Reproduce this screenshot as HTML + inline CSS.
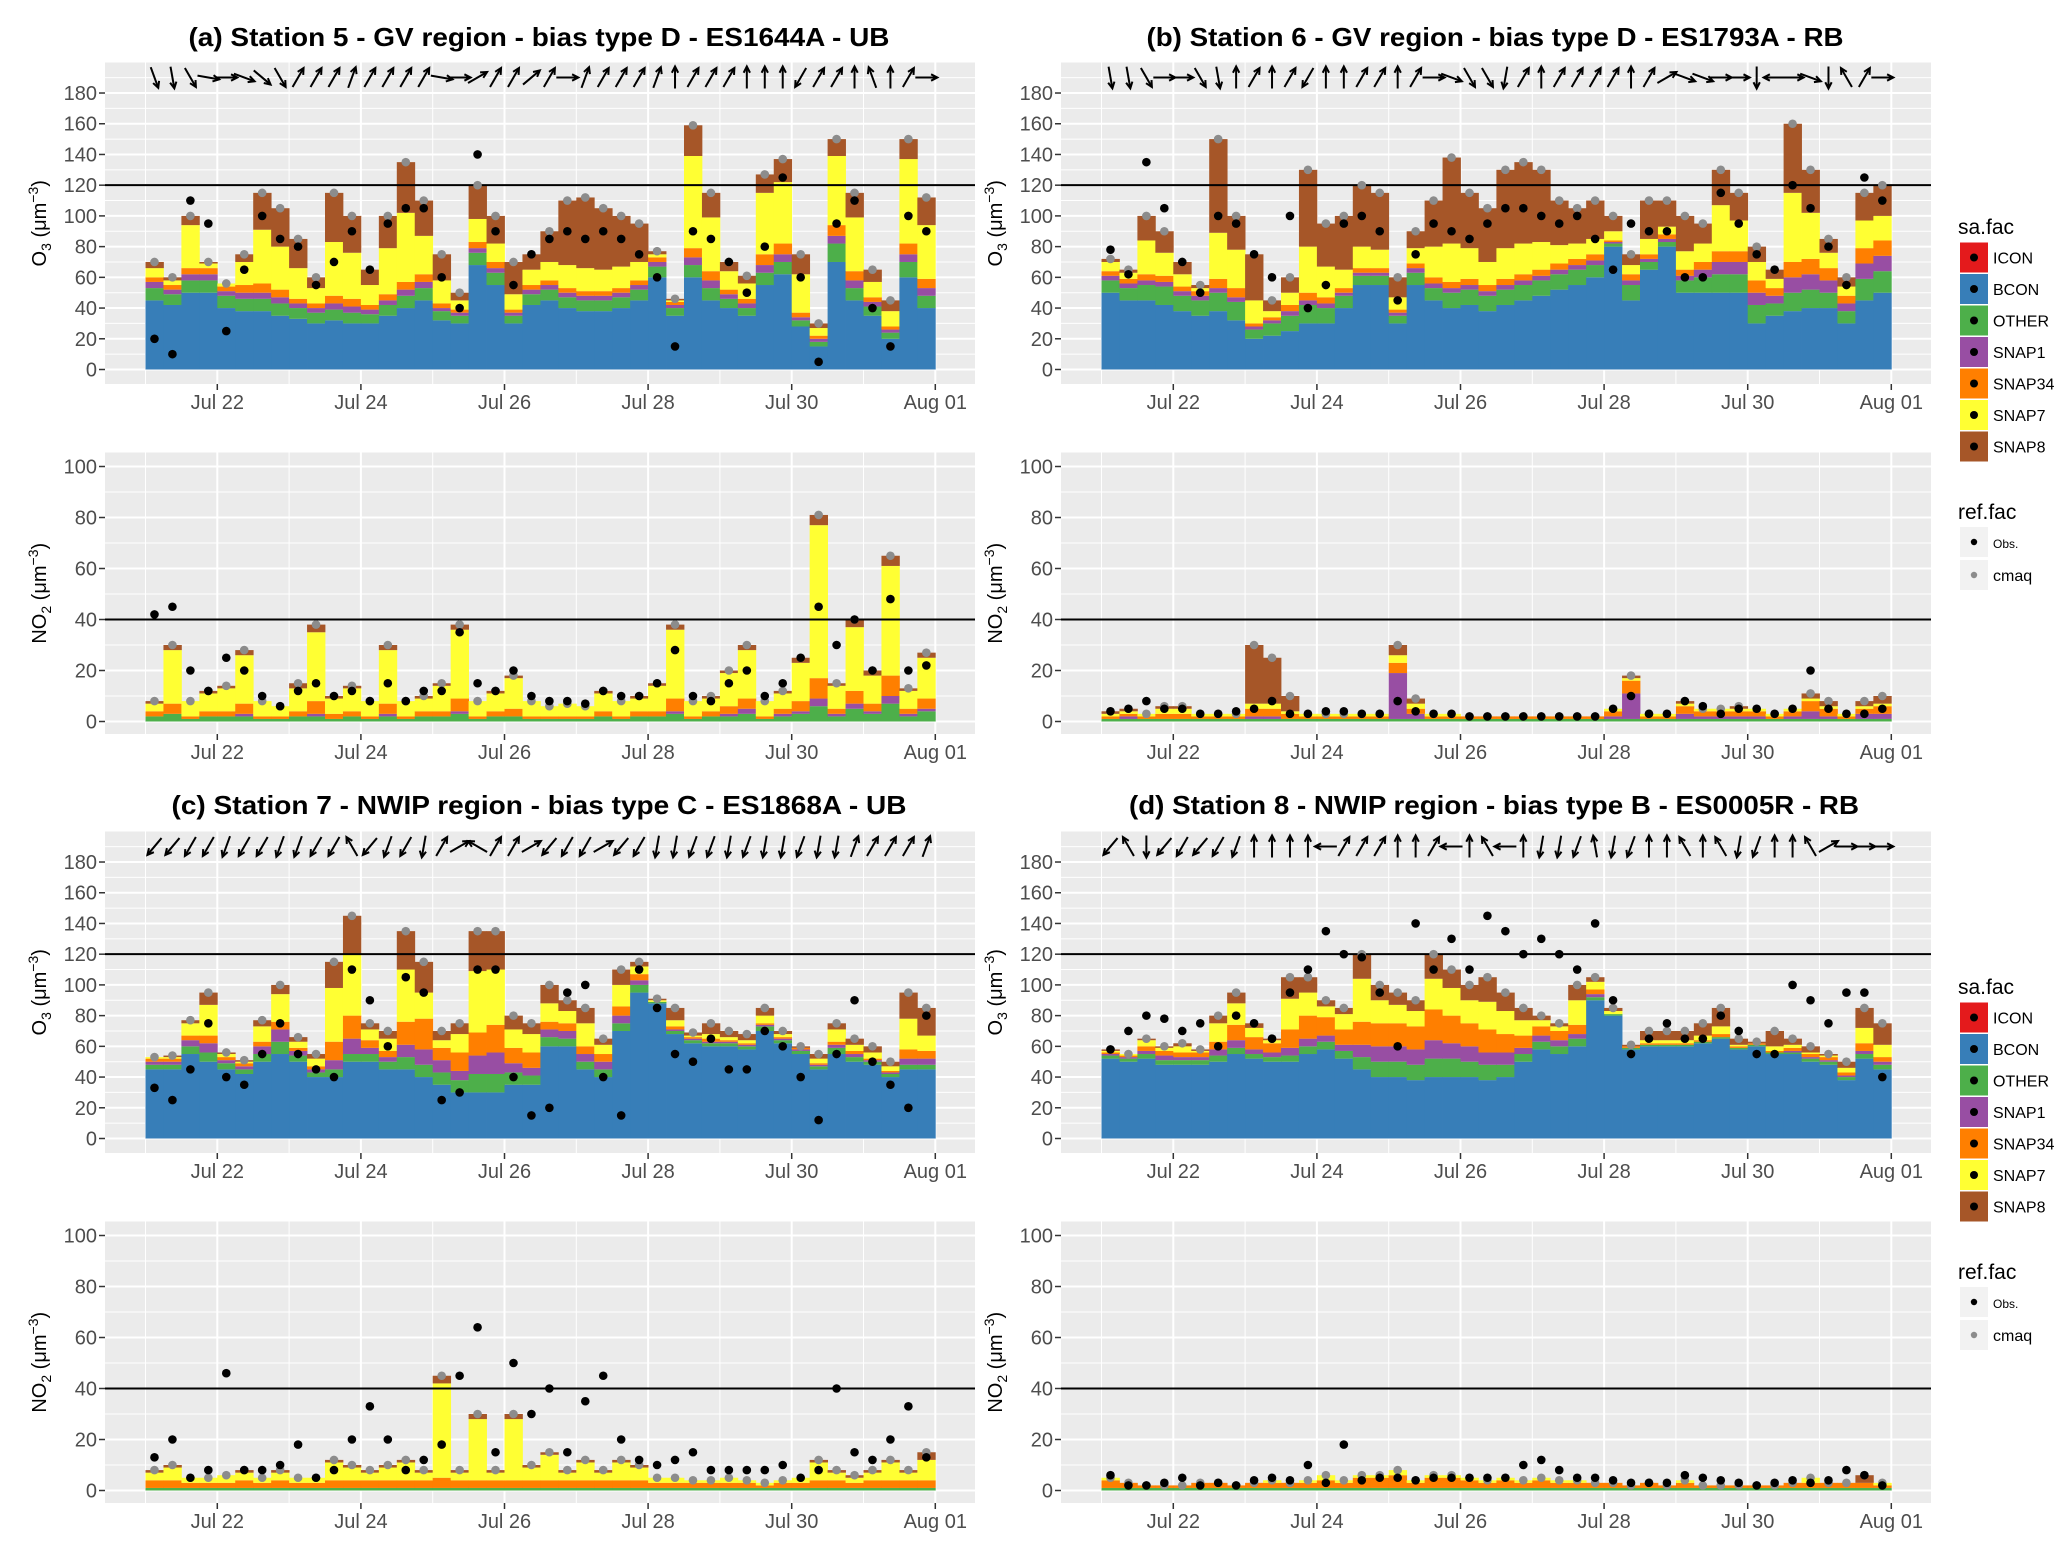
<!DOCTYPE html>
<html><head><meta charset="utf-8"><style>
html,body{margin:0;padding:0;background:#fff;overflow:hidden;}
svg{display:block;font-family:"Liberation Sans",sans-serif;}
</style></head><body>
<svg id="chart" width="2067" height="1549" viewBox="0 0 2067 1549" xmlns="http://www.w3.org/2000/svg"></svg>
<script>
const categories = ["Jul 22","Jul 24","Jul 26","Jul 28","Jul 30","Aug 01"];
const o3Ticks = [0,20,40,60,80,100,120,140,160,180];
const no2Ticks = [0,20,40,60,80,100];
const layerNames = ["BCON","OTHER","SNAP1","SNAP34","SNAP7","SNAP8"];
const layerColors = ["#377EB8","#4DAF4A","#984EA3","#FF7F00","#FFFF33","#A65628"];
const z44 = [0,0,0,0,0,0,0,0,0,0,0,0,0,0,0,0,0,0,0,0,0,0,0,0,0,0,0,0,0,0,0,0,0,0,0,0,0,0,0,0,0,0,0,0];
const ones44 = [1,1,1,1,1,1,1,1,1,1,1,1,1,1,1,1,1,1,1,1,1,1,1,1,1,1,1,1,1,1,1,1,1,1,1,1,1,1,1,1,1,1,1,1];

// Panel A (Station 5) O3
const bconA = [45,42,50,50,40,38,38,35,33,30,32,30,30,35,40,45,32,30,68,55,30,42,45,40,38,38,40,45,60,35,60,45,40,35,55,62,28,15,70,45,35,20,60,40];
const otherA = [8,7,8,8,8,8,8,8,7,7,7,7,6,7,8,8,6,5,8,8,5,7,7,7,7,7,7,7,7,5,8,8,6,5,8,8,4,3,12,8,6,4,10,8];
const snap1A = [4,3,4,4,3,4,4,4,3,3,4,4,3,3,4,4,2,2,3,3,2,3,3,3,3,3,3,3,3,2,5,5,3,3,5,5,2,2,5,5,3,2,5,5];
const snap34A = [3,3,4,4,3,5,6,5,3,3,5,5,3,4,5,5,3,2,4,4,2,3,3,3,3,3,3,3,3,2,6,6,3,3,7,7,3,2,7,6,3,2,7,6];
const snap7A = [6,3,28,3,2,15,35,28,20,10,35,30,13,30,45,25,15,6,15,12,10,10,12,15,15,14,14,12,2,1,60,35,12,10,40,40,25,5,45,35,10,10,55,35];
const snap8A = [4,2,6,1,0,5,24,25,19,7,32,24,10,21,33,23,17,5,22,18,21,10,20,42,46,40,33,25,2,1,20,16,6,5,12,15,13,3,11,16,8,7,13,18];
const obsA = [20,10,110,95,25,65,100,85,80,55,70,90,65,95,105,105,60,40,140,90,55,75,85,90,85,90,85,75,60,15,90,85,70,50,80,125,60,5,95,110,40,15,100,90];
const windA = [70,80,60,10,0,20,40,60,-60,-60,-60,-70,-60,-60,-60,-60,10,0,-30,-60,-60,-40,-60,0,-70,-60,-60,-60,-70,-90,-60,-60,-60,-90,-90,-90,120,-60,-60,-90,-110,-90,-60,0];
// Panel A NO2
const otherNA = [2,3,1,2,2,2,1,1,2,2,1,2,1,2,1,2,2,3,1,2,2,1,1,1,1,2,1,2,2,3,1,2,2,3,1,2,3,6,2,5,3,7,2,4];
const snap1NA = [0,0,0,0,0,1,0,0,0,1,0,0,0,1,0,0,0,1,0,0,0,0,0,0,0,0,0,0,0,1,0,0,1,2,0,1,1,3,1,2,1,3,1,1];
const snap34NA = [2,4,1,2,2,4,1,1,2,5,2,2,1,4,1,2,2,5,1,2,3,1,1,1,1,2,1,2,2,5,1,2,3,4,1,2,4,8,2,5,3,8,2,4];
const snap7NA = [3,21,6,7,9,19,6,4,9,27,6,9,6,21,6,5,10,27,6,7,12,6,4,5,4,7,6,5,10,27,6,5,13,19,6,6,15,60,9,25,11,43,7,16];
const snap8NA = [1,2,0,1,1,2,0,0,2,3,1,1,0,2,0,1,1,2,0,1,1,0,0,0,0,1,0,1,1,2,0,1,1,2,0,1,2,4,1,3,2,4,1,2];
const obsNA = [42,45,20,12,25,20,10,6,12,15,10,12,8,15,8,12,12,35,15,12,20,10,8,8,7,12,10,10,15,28,10,8,15,20,10,15,25,45,30,40,20,48,20,22];

// Panel B (Station 6) O3
const bconB = [50,45,45,42,38,35,38,32,20,22,25,30,30,40,55,55,30,55,45,40,42,38,42,45,48,52,55,60,80,45,65,80,50,50,50,50,30,35,38,40,40,30,45,50];
const otherB = [8,8,10,12,10,10,12,12,6,8,10,12,10,8,6,6,5,8,8,10,10,10,10,10,10,10,10,8,2,10,5,3,8,10,12,12,12,8,12,12,10,8,14,14];
const snap1B = [3,3,3,3,3,3,3,3,2,2,3,3,3,2,2,2,2,3,3,3,3,3,3,3,3,3,3,3,1,3,2,2,3,5,8,8,8,5,10,10,8,5,10,10];
const snap34B = [3,3,4,4,3,3,6,6,2,2,4,5,4,3,3,3,2,3,4,4,4,4,4,4,4,4,4,4,1,4,3,3,4,5,7,7,8,5,10,10,8,5,10,10];
const snap7B = [6,4,22,15,8,2,30,25,15,4,8,30,20,12,14,12,8,10,20,25,20,15,20,20,18,12,10,10,6,6,10,5,12,12,30,20,12,6,45,30,10,6,18,16];
const snap8B = [2,2,16,14,8,2,61,22,30,7,10,50,28,35,40,37,13,11,30,56,36,35,51,53,47,29,23,25,10,7,25,17,23,13,23,18,10,6,45,28,9,6,18,20];
const obsB = [78,62,135,105,70,50,100,95,75,60,100,40,55,95,100,90,45,75,95,90,85,95,105,105,100,95,100,85,65,95,90,90,60,60,115,95,75,65,120,105,80,55,125,110];
const windB = [80,80,60,0,0,60,80,-90,-60,-90,-60,120,-90,-90,-60,-60,-90,-60,0,20,60,60,100,-60,-90,-60,-60,-60,-60,-90,-60,-30,20,20,0,0,90,180,0,20,90,-120,-60,0];
// Panel B NO2
const otherNB = ones44;
const snap1NB = [0,1,0,0,0,0,0,0,1,1,0,0,0,0,0,0,18,2,0,0,0,0,0,0,0,0,0,0,1,10,0,0,2,1,1,1,1,0,1,3,1,0,2,2];
const snap34NB = [1,1,1,2,2,1,1,1,3,3,2,1,1,1,1,1,4,2,1,1,1,1,1,1,1,1,1,1,2,5,1,1,3,2,2,2,2,1,2,4,3,1,2,3];
const snap7NB = [1,1,1,2,2,1,1,1,2,2,1,1,1,1,1,1,3,2,1,1,0,0,0,0,0,0,0,0,1,1,1,1,1,1,1,1,1,1,1,1,1,1,1,1];
const snap8NB = [1,1,0,1,1,0,0,0,23,18,6,0,0,0,0,0,4,2,0,0,0,0,0,0,0,0,0,0,0,1,0,0,1,0,0,1,0,0,0,2,2,0,2,3];
const obsNB = [4,5,8,5,5,3,3,4,5,8,3,3,4,4,3,3,8,4,3,3,2,2,2,2,2,2,2,2,5,10,3,3,8,6,3,5,5,3,5,20,5,3,3,5];

// Panel C (Station 7) O3
const bconC = [45,45,55,50,45,42,50,55,50,40,40,50,50,45,45,40,35,30,30,30,35,35,60,60,45,40,70,95,88,68,62,60,60,58,70,62,55,45,55,50,48,40,45,45];
const otherC = [3,3,5,6,4,3,5,8,4,3,5,5,5,5,8,8,8,8,12,12,8,6,6,5,5,5,5,5,1,2,2,2,2,2,3,2,2,2,4,3,2,2,3,3];
const snap1C = [2,2,4,6,2,2,5,8,3,2,6,10,4,3,8,10,8,6,12,14,6,5,5,5,5,5,5,3,0,1,1,1,1,1,1,1,1,1,2,2,1,1,4,4];
const snap34C = [2,2,3,5,2,2,3,5,2,2,12,15,5,4,15,20,8,12,15,18,10,10,5,5,5,5,6,4,0,2,1,2,1,1,1,1,1,1,2,2,1,1,6,5];
const snap7C = [1,1,8,20,2,1,10,18,4,5,35,40,7,8,34,17,5,12,40,36,12,12,12,8,15,6,14,5,1,4,1,3,2,2,5,2,0,3,8,4,4,3,20,10];
const snap8C = [0,1,2,8,1,1,4,6,3,3,17,25,4,5,25,20,6,7,26,25,9,7,12,7,10,4,10,3,1,8,2,7,4,4,5,2,1,3,4,4,4,3,17,18];
const obsC = [33,25,45,75,40,35,55,75,55,45,40,110,90,60,105,95,25,30,110,110,40,15,20,95,100,40,15,110,85,55,50,65,45,45,70,60,40,12,55,90,50,35,20,80];
const windC = [130,130,120,120,110,120,120,110,110,120,120,-120,130,110,120,100,-60,-30,-150,-60,-60,-30,130,120,120,-30,130,120,100,100,110,110,100,110,100,100,110,100,100,-70,-60,-60,-60,-70];
// Panel C NO2
const otherNC = ones44;
const snap1NC = z44;
const snap34NC = [3,3,2,2,2,3,2,3,2,2,3,3,3,3,3,3,4,3,3,3,3,3,3,3,3,3,3,3,2,2,2,2,2,2,1,2,2,3,3,2,3,3,3,3];
const snap7NC = [3,5,2,2,3,3,2,3,2,2,7,5,3,5,7,3,37,3,24,3,24,5,10,3,7,3,7,5,2,2,1,1,2,1,1,1,2,7,3,2,3,7,3,8];
const snap8NC = [1,1,0,0,0,1,0,1,0,0,1,1,1,1,1,1,3,1,2,1,2,1,1,1,1,1,1,1,0,0,0,0,0,0,0,0,0,1,1,1,1,1,1,3];
const obsNC = [13,20,5,8,46,8,8,10,18,5,8,20,33,20,8,12,18,45,64,15,50,30,40,15,35,45,20,12,10,12,15,8,8,8,8,10,5,8,40,15,12,20,33,13];

// Panel D (Station 8) O3
const bconD = [52,50,52,48,48,48,50,55,52,50,50,55,58,52,45,40,40,38,40,40,40,38,40,50,58,55,60,90,80,58,60,60,60,62,65,58,60,55,55,50,48,38,52,45];
const otherD = [2,2,3,3,3,3,4,4,3,3,4,5,5,5,8,10,10,10,12,12,10,10,8,5,5,5,5,2,1,1,1,1,1,1,1,1,1,1,1,2,2,2,3,3];
const snap1D = [1,1,2,3,2,2,4,5,3,3,5,5,4,4,8,10,10,10,12,10,10,8,8,4,4,4,3,2,0,0,0,0,0,0,0,0,0,0,1,1,1,1,2,2];
const snap34D = [1,1,3,3,3,3,5,10,8,6,12,15,12,10,15,15,15,15,20,18,15,15,12,8,6,6,6,3,0,1,1,1,1,1,2,1,1,1,2,2,2,2,5,3];
const snap7D = [1,1,4,2,4,1,12,14,6,2,20,15,7,10,28,15,12,10,20,18,15,18,15,10,4,3,16,5,2,0,2,2,2,3,5,1,0,3,2,1,1,3,10,8];
const snap8D = [1,0,1,1,2,1,5,7,3,1,14,10,4,4,16,10,8,7,16,12,10,16,12,8,3,2,10,3,2,1,6,6,6,8,12,4,1,10,4,4,1,4,13,14];
const obsD = [58,70,80,78,70,75,60,80,75,65,95,110,135,120,118,95,60,140,110,130,110,145,135,120,130,120,110,140,90,55,65,75,65,65,80,70,55,55,100,90,75,95,95,40];
const windD = [130,-120,90,130,120,130,120,110,-90,-90,-90,-90,180,-60,-60,-60,-90,-90,-60,180,-90,-120,180,-90,100,100,110,-100,100,110,-90,-90,-120,-90,-120,100,110,-90,-90,-120,-30,0,0,0];
// Panel D NO2
const otherND = ones44;
const snap1ND = z44;
const snap34ND = [3,2,1,1,1,2,2,1,2,2,2,2,3,2,4,4,5,2,4,4,3,2,3,2,3,2,2,2,2,1,2,1,2,1,1,1,1,1,2,2,2,2,2,1];
const snap7ND = [1,0,0,0,0,0,0,0,0,1,0,1,2,1,1,1,2,1,1,1,1,1,1,1,1,1,1,0,0,0,0,0,1,0,0,0,0,0,0,2,0,0,0,1];
const snap8ND = [0,0,0,0,0,0,0,0,0,0,0,0,0,0,0,0,0,0,0,0,0,0,0,0,0,0,0,0,0,0,0,0,0,0,0,0,0,0,0,0,0,0,3,0];
const obsND = [6,2,2,3,5,2,3,2,4,5,4,10,3,18,4,5,5,4,5,5,5,5,5,10,12,8,5,5,4,3,3,3,6,5,4,3,2,3,4,3,4,8,6,2];

const titles = ["(a)  Station 5 - GV region -  bias type D - ES1644A - UB","(b)  Station 6 - GV region - bias type D - ES1793A - RB","(c)  Station  7 - NWIP region - bias type C - ES1868A - UB","(d)  Station 8 - NWIP region - bias type B - ES0005R - RB"];

const NS="http://www.w3.org/2000/svg";
const svg=document.getElementById('chart');
function el(tag,attrs,parent){const e=document.createElementNS(NS,tag);for(const k in attrs)e.setAttribute(k,attrs[k]);(parent||svg).appendChild(e);return e;}

const STEP=6, DAYPX=71.8;
function xScale(ox,h){return ox+145.5+h*DAYPX/24;}

function drawPanel(ox,oy,kind,layers,obs,wind,key){
  const isO3 = kind==='o3';
  const top = oy+(isO3?62.5:452.5), bot = oy+(isO3?384:734);
  const y0 = oy+(isO3?369.5:721.5), k = isO3?1.536:2.55;
  const ticks = isO3?o3Ticks:no2Ticks;
  const yS = v=>y0-v*k;
  const g=el('g',{});
  
  
  const bg=el('rect',{x:ox+105,y:top,width:870,height:bot-top,fill:'#EBEBEB'},g);
  
  
  for(let v=10; yS(v)>top; v+=20){
    el('line',{x1:ox+105,x2:ox+975,y1:yS(v),y2:yS(v),stroke:'#fff','stroke-width':1},g);
  }
  for(const v of ticks){
    el('line',{x1:ox+105,x2:ox+975,y1:yS(v),y2:yS(v),stroke:'#fff','stroke-width':2},g);
  }
  for(let d=0; d<=11; d++){
    const x=xScale(ox,d*24);
    el('line',{x1:x,x2:x,y1:top,y2:bot,stroke:'#fff','stroke-width':d%2===1?2:1},g);
  }
  const n=layers[0].length;
  const bw=STEP*DAYPX/24;
  const totals=[];
  for(let i=0;i<n;i++){
    let acc=0;
    const x=xScale(ox,i*STEP);
    for(let l=0;l<layers.length;l++){
      const v=layers[l][i];
      if(v>0){
        const r=el('rect',{x:x,y:yS(acc+v),width:bw+0.4,height:v*k,fill:layerColors[l]},g);
        
        
      }
      acc+=v;
    }
    totals.push(acc);
  }
  const hv = isO3?120:40;
  const hl=el('line',{x1:ox+105,x2:ox+975,y1:yS(hv),y2:yS(hv),stroke:'#000','stroke-width':2},g);
  
  
  for(let i=0;i<n;i++){
    const c=el('circle',{cx:xScale(ox,i*STEP+3),cy:yS(totals[i]),r:4.3,fill:'#8C8C8C'},g);
    
    
  }
  for(let i=0;i<obs.length;i++){
    const c=el('circle',{cx:xScale(ox,i*STEP+3),cy:yS(obs[i]),r:4.3,fill:'#000'},g);
    
    
  }
  if(wind){
    const wy=oy+77.5, L=11;
    for(let i=0;i<wind.length;i++){
      const cx=xScale(ox,i*STEP+3), a=wind[i]*Math.PI/180;
      const dx=Math.cos(a)*L, dy=Math.sin(a)*L;
      const x1=cx-dx,y1=wy-dy,x2=cx+dx,y2=wy+dy;
      const ag=el('g',{stroke:'#000','stroke-width':2,fill:'none'},g);
      
      
      el('line',{x1:x1,y1:y1,x2:x2,y2:y2},ag);
      const h1=a+Math.PI*0.85,h2=a-Math.PI*0.85;
      el('polyline',{points:(x2+Math.cos(h1)*7)+','+(y2+Math.sin(h1)*7)+' '+x2+','+y2+' '+(x2+Math.cos(h2)*7)+','+(y2+Math.sin(h2)*7)},ag);
    }
  }
  for(const v of ticks){
    el('line',{x1:ox+99,x2:ox+105,y1:yS(v),y2:yS(v),stroke:'#333','stroke-width':1.5},g);
    const t=el('text',{x:ox+97,y:yS(v)+7,'text-anchor':'end','font-size':20,fill:'#4D4D4D'},g);
    t.textContent=v;
    
    
  }
  for(let j=0;j<categories.length;j++){
    const x=xScale(ox,(1+2*j)*24);
    el('line',{x1:x,x2:x,y1:bot,y2:bot+6,stroke:'#333','stroke-width':1.5},g);
    const t=el('text',{x:x,y:bot+25,'text-anchor':'middle','font-size':20,fill:'#4D4D4D'},g);
    t.textContent=categories[j];
    
    
  }
  const ty=(top+bot)/2, tx=ox+46;
  const at=el('text',{x:0,y:0,transform:'translate('+tx+','+ty+') rotate(-90)','text-anchor':'middle','font-size':20,fill:'#000'},g);
  
  
  const sub = isO3?'3':'2', base = isO3?'O':'NO';
  at.innerHTML = base+'<tspan dy="5" font-size="14">'+sub+'</tspan><tspan dy="-5"> (μm</tspan><tspan dy="-8" font-size="14">−3</tspan><tspan dy="8">)</tspan>';
}

function drawLegend(oy){
  const g=el('g',{});
  
  
  const t=el('text',{x:1958,y:oy+234,'font-size':21,fill:'#000'},g);
  t.textContent='sa.fac';
  const names=["ICON","BCON","OTHER","SNAP1","SNAP34","SNAP7","SNAP8"];
  const cols=["#E41A1C","#377EB8","#4DAF4A","#984EA3","#FF7F00","#FFFF33","#A65628"];
  for(let i=0;i<names.length;i++){
    const y=oy+242.5+i*31.5;
    const e=el('g',{},g);
    
    
    el('rect',{x:1960,y:y,width:28,height:30,fill:cols[i]},e);
    el('circle',{cx:1974,cy:y+15,r:4,fill:'#000'},e);
    const lt=el('text',{x:1993,y:y+21,'font-size':16,fill:'#000'},e);
    lt.textContent=names[i];
  }
  const g2=el('g',{});
  
  
  const t2=el('text',{x:1958,y:oy+519,'font-size':21,fill:'#000'},g2);
  t2.textContent='ref.fac';
  const rn=["Obs.","cmaq"], rc=["#000","#8C8C8C"];
  for(let i=0;i<2;i++){
    const y=oy+527+i*33;
    const e=el('g',{},g2);
    
    
    el('rect',{x:1960,y:y,width:28,height:30,fill:'#F2F2F2'},e);
    el('circle',{cx:1974,cy:y+15,r:3.2,fill:rc[i]},e);
    const lt=el('text',{x:1993,y:y+21,'font-size':i?16:12,fill:'#000'},e);
    lt.textContent=rn[i];
  }
}

function title(txt,cx,y,w,name){
  const t=el('text',{x:cx,y:y,'text-anchor':'middle','font-size':26,'font-weight':'bold',textLength:w,lengthAdjust:'spacingAndGlyphs',fill:'#000'});
  t.textContent=txt;
  
  
}

const OY2 = 769;
title(titles[0],539,46,701,'title-a');
title(titles[1],1495,46,697,'title-b');
title(titles[2],539,814,735,'title-c');
title(titles[3],1494,814,730,'title-d');

drawPanel(0,0,'o3',[bconA,otherA,snap1A,snap34A,snap7A,snap8A],obsA,windA,'a');
drawPanel(0,0,'no2',[z44,otherNA,snap1NA,snap34NA,snap7NA,snap8NA],obsNA,null,'a');
drawPanel(956,0,'o3',[bconB,otherB,snap1B,snap34B,snap7B,snap8B],obsB,windB,'b');
drawPanel(956,0,'no2',[z44,otherNB,snap1NB,snap34NB,snap7NB,snap8NB],obsNB,null,'b');
drawPanel(0,OY2,'o3',[bconC,otherC,snap1C,snap34C,snap7C,snap8C],obsC,windC,'c');
drawPanel(0,OY2,'no2',[z44,otherNC,snap1NC,snap34NC,snap7NC,snap8NC],obsNC,null,'c');
drawPanel(956,OY2,'o3',[bconD,otherD,snap1D,snap34D,snap7D,snap8D],obsD,windD,'d');
drawPanel(956,OY2,'no2',[z44,otherND,snap1ND,snap34ND,snap7ND,snap8ND],obsND,null,'d');
drawLegend(0);
drawLegend(OY2-9);
</script>
</body></html>
